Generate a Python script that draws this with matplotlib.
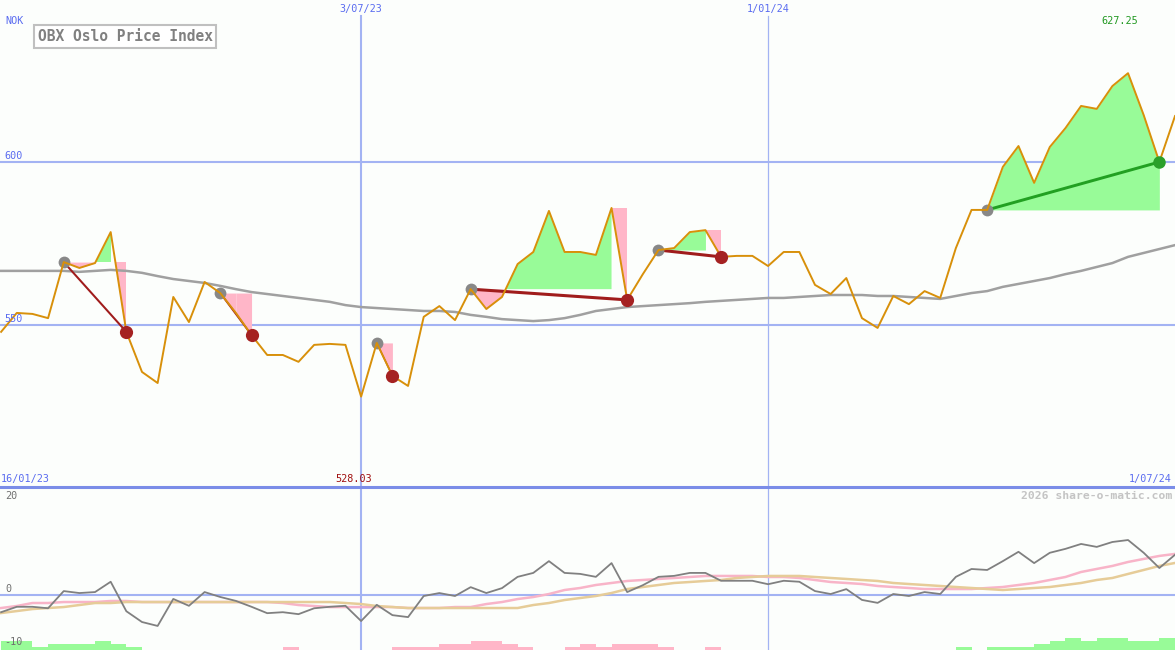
import numpy as np
import pandas as pd
import matplotlib
matplotlib.use("Agg")
import matplotlib.pyplot as plt
import matplotlib.dates as mdates
from matplotlib.patches import Polygon

# weekly closes, OBX Oslo Price Index
dates = pd.date_range("2023-01-23", periods=76, freq="7D")
price = [547.9, 553.7, 553.4, 552.1, 569.3, 567.5, 569.0, 578.5, 547.9, 535.6,
         532.2, 558.6, 550.9, 563.2, 559.8, 553.7, 546.9, 540.8, 540.8, 538.7,
         543.9, 544.2, 543.9, 528.03, 544.5, 534.4, 531.3, 552.5, 555.8, 551.5,
         561.0, 554.9, 558.6, 568.7, 572.4, 585.0, 572.4, 572.4, 571.5, 585.9,
         557.7, 565.6, 573.0, 573.6, 578.5, 579.1, 570.9, 571.2, 571.2, 568.1,
         572.4, 572.4, 562.3, 559.5, 564.4, 552.1, 549.1, 558.9, 556.4, 560.4,
         558.3, 573.6, 585.3, 585.3, 598.5, 604.9, 593.6, 604.6, 610.4, 617.2,
         616.3, 623.3, 627.25, 614.4, 600.0, 614.1]
ma = [566.6, 566.6, 566.6, 566.6, 566.6, 566.3, 566.6, 566.9, 566.6, 566.0,
      565.0, 564.1, 563.5, 562.9, 562.0, 561.0, 560.1, 559.5, 558.9, 558.3,
      557.7, 557.1, 556.1, 555.5, 555.2, 554.9, 554.6, 554.3, 554.3, 554.0,
      553.1, 552.5, 551.8, 551.5, 551.2, 551.5, 552.1, 553.1, 554.3, 554.9,
      555.5, 555.8, 556.1, 556.4, 556.7, 557.1, 557.4, 557.7, 558.0, 558.3,
      558.3, 558.6, 558.9, 559.2, 559.2, 559.2, 558.9, 558.9, 558.6, 558.3,
      558.0, 558.9, 559.8, 560.4, 561.7, 562.6, 563.5, 564.4, 565.6, 566.6,
      567.8, 569.0, 570.9, 572.1, 573.3, 574.5]

# signal episodes: start index, end index, direction
sig_start = [4, 14, 24, 30, 42, 63]
sig_end = [8, 16, 25, 40, 46, 74]
sig_dir = ["down", "down", "down", "down", "down", "up"]

# lower panel
osc = [-3.5, -2.4, -2.4, -2.7, 0.8, 0.4, 0.6, 2.7, -3.3, -5.5,
       -6.3, -0.8, -2.2, 0.6, -0.4, -1.2, -2.4, -3.7, -3.5, -3.9,
       -2.7, -2.4, -2.2, -5.3, -2.0, -4.1, -4.5, -0.2, 0.4, -0.2,
       1.6, 0.4, 1.4, 3.7, 4.5, 6.9, 4.5, 4.3, 3.7, 6.5,
       0.6, 2.0, 3.7, 3.9, 4.5, 4.5, 2.9, 2.9, 2.9, 2.2,
       2.9, 2.7, 0.8, 0.2, 1.2, -1.0, -1.6, 0.2, -0.2, 0.6,
       0.2, 3.7, 5.3, 5.1, 6.9, 8.8, 6.5, 8.6, 9.4, 10.4,
       9.8, 10.8, 11.2, 8.6, 5.5, 8.2]
osc_fast = [-2.65, -2.24, -1.63, -1.63, -1.43, -1.43, -1.43, -1.22, -1.22, -1.43,
            -1.43, -1.43, -1.43, -1.43, -1.43, -1.43, -1.43, -1.43, -1.63, -2.04,
            -2.24, -2.45, -2.45, -2.45, -2.45, -2.45, -2.65, -2.65, -2.65, -2.45,
            -2.45, -1.84, -1.43, -0.82, -0.41, 0.2, 1.02, 1.43, 2.04, 2.45,
            2.86, 3.06, 3.27, 3.47, 3.67, 3.88, 3.88, 3.88, 3.88, 3.67,
            3.67, 3.47, 3.06, 2.65, 2.45, 2.24, 1.84, 1.63, 1.43, 1.22,
            1.22, 1.22, 1.22, 1.43, 1.63, 2.04, 2.45, 3.06, 3.67, 4.69,
            5.31, 5.92, 6.73, 7.35, 7.96, 8.37]
osc_slow = [-3.67, -3.27, -2.86, -2.65, -2.45, -2.04, -1.63, -1.63, -1.43, -1.43,
            -1.43, -1.43, -1.43, -1.43, -1.43, -1.43, -1.43, -1.43, -1.43, -1.43,
            -1.43, -1.43, -1.63, -1.84, -2.24, -2.45, -2.65, -2.65, -2.65, -2.65,
            -2.65, -2.65, -2.65, -2.65, -2.04, -1.63, -1.02, -0.61, -0.2, 0.41,
            1.22, 1.63, 2.04, 2.45, 2.65, 2.86, 3.06, 3.47, 3.67, 3.88,
            3.88, 3.88, 3.67, 3.47, 3.27, 3.06, 2.86, 2.45, 2.24, 2.04,
            1.84, 1.63, 1.43, 1.22, 1.02, 1.22, 1.43, 1.63, 2.04, 2.45,
            3.06, 3.47, 4.29, 5.10, 5.92, 6.53]
# weekly bars at the bottom (+ green, - pink), in steps
bars = [3, 3, 1, 2, 2, 2, 3, 2, 1, 0,
        0, 0, 0, 0, 0, 0, 0, 0, -1, 0,
        0, 0, 0, 0, 0, -1, -1, -1, -2, -2,
        -3, -3, -2, -1, 0, 0, -1, -2, -1, -2,
        -2, -2, -1, 0, 0, -1, 0, 0, 0, 0,
        0, 0, 0, 0, 0, 0, 0, 0, 0, 0,
        0, 1, 0, 1, 1, 1, 2, 3, 4, 3,
        4, 4, 3, 3, 4, 0]

W, H = 1175, 650
bg = "#fcfefc"
grid_c = "#a3b3f3"
blue_txt = "#5a6cf0"
mono = "DejaVu Sans Mono"

x = mdates.date2num(dates)
p = np.array(price)
x0 = mdates.date2num(pd.Timestamp("2023-01-22 12:00"))
x1 = mdates.date2num(pd.Timestamp("2024-07-01"))
vlines = [mdates.date2num(pd.Timestamp("2023-07-03")), mdates.date2num(pd.Timestamp("2024-01-01"))]

fig = plt.figure(figsize=(W / 100, H / 100), dpi=100, facecolor=bg)
ax = fig.add_axes([0, 163 / H, 1, 487 / H])
ax2 = fig.add_axes([0, 0, 1, 163 / H])
for a in (ax, ax2):
    a.set_facecolor(bg)
    a.set_xlim(x0, x1)
    a.axis("off")
ax.set_ylim(500.3, 649.7)
ax2.set_ylim(-11.2, 22.0)

# grid
for yv in (600, 550):
    ax.axhline(yv, color=grid_c, lw=1.5, zorder=0)
ax.plot([vlines[0]] * 2, [500.3, 644.8], color=grid_c, lw=1.5, zorder=0)
ax.plot([vlines[1]] * 2, [500.3, 644.8], color=grid_c, lw=0.9, zorder=0)
ax2.axhline(0, color=grid_c, lw=1.5, zorder=0)
ax2.axvline(vlines[0], color=grid_c, lw=1.5, zorder=0)
ax2.axvline(vlines[1], color=grid_c, lw=0.9, zorder=0)
ax2.axhline(22.0, color="#7b8de8", lw=2.2, zorder=5, clip_on=False)

green_f = "#98fb98"
pink_f = "#ffb6c8"

# signal fills
for s, e, d in zip(sig_start, sig_end, sig_dir):
    L = p[s]
    stop = e if d == "down" else e + 1
    xs, ps = x[s:stop], p[s:stop]
    if len(xs) > 1:
        ax.fill_between(xs, L, ps, where=ps >= L, interpolate=True, color=green_f, lw=0, zorder=1)
        ax.fill_between(xs, L, ps, where=ps <= L, interpolate=True, color=pink_f, lw=0, zorder=1)
    if d == "down":
        if e - 2 >= s and p[e - 2] > L and p[e - 1] > L:
            # drop from a peak: shade to the right of the falling segment
            poly = Polygon([(x[e - 1], p[e - 1]), (x[e], p[e - 1]), (x[e], p[e])],
                           closed=True, facecolor=pink_f, edgecolor="none", zorder=1)
            ax.add_patch(poly)
        else:
            xl, pl = x[e - 1:e + 1], p[e - 1:e + 1]
            ax.fill_between(xl, L, pl, where=pl <= L, interpolate=True, color=pink_f, lw=0, zorder=1)

ax.plot(x, ma, color="#a0a0a0", lw=1.8, zorder=2)

# pixel scale for line thickness of the signal lines
sx = W / (x1 - x0)
sy = 487 / (649.7 - 500.3)
for s, e, d in zip(sig_start, sig_end, sig_dir):
    lc = "#a01c1c" if d == "down" else "#22a022"
    dx, dy = (x[e] - x[s]) * sx, (p[e] - p[s]) * sy
    lw = max(1.0, 2.2 * dx / np.hypot(dx, dy))
    ax.plot([x[s], x[e]], [p[s], p[e]], color=lc, lw=lw, zorder=3)
    ax.plot(x[s], p[s], "o", ms=8.5, color="#888888", mec="none", zorder=3)

ax.plot(x, p, color="#d8900a", lw=1.4, zorder=4)

for s, e, d in zip(sig_start, sig_end, sig_dir):
    mc = "#a52222" if d == "down" else "#2aa02a"
    ax.plot(x[e], p[e], "o", ms=9.5 if d == "down" else 9, color=mc, mec="none", zorder=5)

# lower panel
bstep = 0.61
for xi, b in zip(x, bars):
    if b != 0:
        ax2.bar(xi, abs(b) * bstep, width=7, align="edge", bottom=-11.2,
                color=green_f if b > 0 else pink_f, lw=0, zorder=1)
ax2.plot(x, osc_fast, color="#f8b4c8", lw=1.8, zorder=2)
ax2.plot(x, osc_slow, color="#e6cc98", lw=1.8, zorder=2)
ax2.plot(x, osc, color="#808080", lw=1.3, zorder=3)


def ftxt(px, py, s, **kw):
    fig.text(px / W, 1 - py / H, s, family=mono, va="center", **kw)


ftxt(5, 21, "NOK", color=blue_txt, size=7.3)
ftxt(4, 156, "600", color=blue_txt, size=7.3)
ftxt(4, 319, "550", color=blue_txt, size=7.3)
ftxt(361, 9, "3/07/23", color=blue_txt, size=7.3, ha="center")
ftxt(768, 9, "1/01/24", color=blue_txt, size=7.3, ha="center")
ftxt(1, 479, "16/01/23", color=blue_txt, size=7.3)
ftxt(1172, 479, "1/07/24", color=blue_txt, size=7.3, ha="right")
ftxt(354, 479, "528.03", color="#a01010", size=7.3, ha="center")
ftxt(1120, 21, "627.25", color="#229922", size=7.3, ha="center")
ftxt(5, 496, "20", color="#707070", size=7.3)
ftxt(5, 589, "0", color="#707070", size=7.3)
ftxt(4, 642, "-10", color="#707070", size=7.3)
ftxt(1172, 496, "2026 share-o-matic.com", color="#c4c4c4", size=8.2, ha="right", weight="bold")
fig.text(125 / W, 1 - 36.5 / H, "OBX Oslo Price Index", family=mono, size=10.5,
         color="#808080", ha="center", va="center", weight="bold",
         bbox=dict(boxstyle="square,pad=0.25", fc="white", ec="#c0c0c0", lw=1.5))

fig.savefig("out.png", dpi=100, facecolor=bg)
